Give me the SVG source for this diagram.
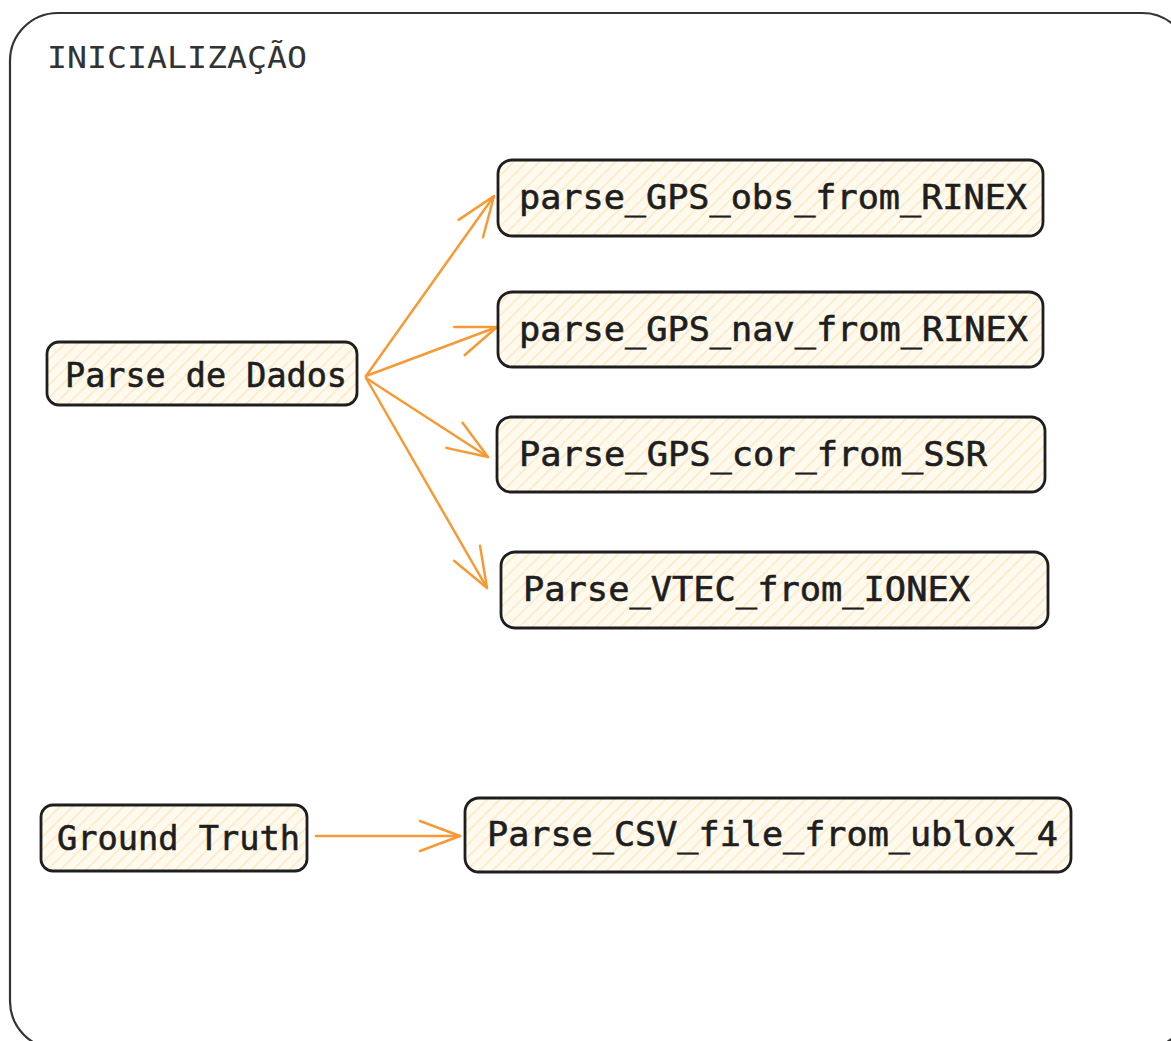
<svg xmlns="http://www.w3.org/2000/svg" width="1171" height="1041" viewBox="0 0 1171 1041">
<style>
.box{fill:url(#hatch);stroke:#1e1e1e;stroke-width:2.8}
.lbl{font-family:"DejaVu Sans Mono","Liberation Mono",monospace;font-size:34px;fill:#1e1e1e;stroke:#1e1e1e;stroke-width:0.6}
.edge{fill:none;stroke:#f59a35;stroke-width:2.5;stroke-linecap:round}
</style>
<defs>
<pattern id="hatch" patternUnits="userSpaceOnUse" width="9" height="9" patternTransform="rotate(45)">
<rect width="9" height="9" fill="#fffaf0"/>
<line x1="0" y1="0" x2="0" y2="9" stroke="#fde9be" stroke-width="3"/>
</pattern>
<marker id="arr" markerUnits="userSpaceOnUse" viewBox="-44 -20 48 40" markerWidth="48" markerHeight="40" refX="0" refY="0" orient="auto">
<path d="M-40,-15 L0,0 L-40,15" fill="none" stroke="#f59a35" stroke-width="2.5" stroke-linecap="round" stroke-linejoin="round"/>
</marker>
</defs>
<rect width="1171" height="1041" fill="#ffffff"/>
<g id="container">
<rect x="10" y="13" width="1180" height="1036" rx="48" fill="none" stroke="#333" stroke-width="2.2"/>
<text x="47" y="68" font-family="DejaVu Sans Mono, Liberation Mono, monospace" font-size="30" fill="#333" textLength="260" lengthAdjust="spacingAndGlyphs">INICIALIZAÇÃO</text>
</g>
<g id="connectors">
<line class="edge" x1="366" y1="376" x2="494" y2="196" marker-end="url(#arr)"/>
<line class="edge" x1="366" y1="376" x2="497" y2="327" marker-end="url(#arr)"/>
<line class="edge" x1="366" y1="378" x2="488" y2="457" marker-end="url(#arr)"/>
<line class="edge" x1="366" y1="378" x2="487" y2="588" marker-end="url(#arr)"/>
<line class="edge" x1="316" y1="836" x2="460" y2="836" marker-end="url(#arr)"/>
</g>
<g id="parse-de-dados">
<rect class="box" x="47" y="342" width="310" height="63" rx="12"/>
<text class="lbl" x="65" y="387" textLength="282" lengthAdjust="spacingAndGlyphs">Parse de Dados</text>
</g>
<g id="parse-obs">
<rect class="box" x="498" y="160" width="545" height="76" rx="14"/>
<text class="lbl" x="519" y="209" textLength="508" lengthAdjust="spacingAndGlyphs">parse_GPS_obs_from_RINEX</text>
</g>
<g id="parse-nav">
<rect class="box" x="498" y="292" width="545" height="75" rx="14"/>
<text class="lbl" x="519" y="341" textLength="509" lengthAdjust="spacingAndGlyphs">parse_GPS_nav_from_RINEX</text>
</g>
<g id="parse-cor">
<rect class="box" x="497" y="417" width="548" height="75" rx="14"/>
<text class="lbl" x="519" y="466" textLength="468" lengthAdjust="spacingAndGlyphs">Parse_GPS_cor_from_SSR</text>
</g>
<g id="parse-vtec">
<rect class="box" x="501" y="552" width="547" height="76" rx="14"/>
<text class="lbl" x="523" y="601" textLength="447" lengthAdjust="spacingAndGlyphs">Parse_VTEC_from_IONEX</text>
</g>
<g id="ground-truth">
<rect class="box" x="41" y="805" width="266" height="66" rx="12"/>
<text class="lbl" x="57" y="850" textLength="243" lengthAdjust="spacingAndGlyphs">Ground Truth</text>
</g>
<g id="parse-csv">
<rect class="box" x="465" y="798" width="606" height="74" rx="14"/>
<text class="lbl" x="487" y="846" textLength="571" lengthAdjust="spacingAndGlyphs">Parse_CSV_file_from_ublox_4</text>
</g>
</svg>
